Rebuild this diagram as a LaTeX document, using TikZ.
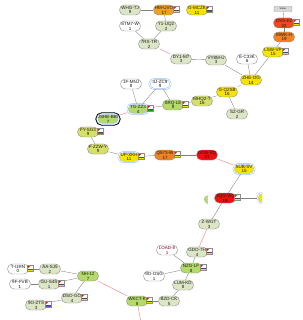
\documentclass[tikz,border=0pt]{standalone}
\usepackage{fontspec}
\setmainfont{Liberation Sans}

\definecolor{pale}{HTML}{DCE6C6}
\definecolor{lime}{HTML}{B4DA6C}
\definecolor{olive}{HTML}{D6DF6A}
\definecolor{sun}{HTML}{F6E400}
\definecolor{amber}{HTML}{EFA020}
\definecolor{tang}{HTML}{F08222}
\definecolor{blood}{HTML}{EE4A1E}
\definecolor{fire}{HTML}{EE1010}
\definecolor{selblue}{HTML}{9DBDF2}
\definecolor{hot}{HTML}{F27878}

\begin{document}
\begin{tikzpicture}[x=1pt, y=-1pt,
    every node/.style={font=\fontsize{4.5}{4.9}\selectfont, text=black!90},
    st/.style={rectangle, rounded corners=4.8pt, draw=black!45, line width=0.4pt,
               minimum width=21pt, minimum height=10pt, inner sep=0.7pt, align=center},
    wt/.style={st, fill=white},
    pl/.style={st, fill=pale},
    gr/.style={st, fill=lime},
    ol/.style={st, fill=olive},
    yl/.style={st, fill=sun},
    sel/.style={draw=selblue, double=white, double distance=0.7pt, line width=0.5pt},
    bold/.style={preaction={draw=black, line width=3.4pt}},
    e/.style={draw=black!50, line width=0.35pt},
    r/.style={draw=hot, line width=0.4pt},
    flag/.pic={
      \fill[white] (0,0) rectangle (5.5,6.5);
      \fill[#1] (0,4.6) rectangle (5.5,6.5);
      \draw[black!70, line width=0.2pt] (0,4.6) -- (5.5,4.6);
      \fill[red] (0.6,0.6) -- (3.4,0.6) -- (0.6,3.4) -- cycle;
      \draw[black!45, line width=0.3pt] (0,0) rectangle (5.5,6.5);
    },
  ]
  \useasboundingbox (0,0) rectangle (302,320);
  % top cluster
  \node[pl] (whg) at (130, 10) {WHG-TJ\\9};
  \node[st, fill=amber] (hm) at (164, 10) {HM-UVO\\17};
  \node[yl] (gmc) at (197, 10) {G-MCZK\\11};
  \node[wt] (stm) at (130, 26) {STM7-W\\1};
  \node[pl] (yy) at (166, 26) {Y1-UQ2\\2};
  \node[pl] (rs) at (149, 44) {7RS-TR\\2};
  \node[pl] (dyt) at (181, 59) {DY1-M7\\3};
  \node[pl] (vy) at (216, 60) {VY8M-U\\3};
  \node[wt] (ec) at (247, 59) {E-C33K\\6};
  \node[yl] (lsw) at (273, 52) {LSW-VP\\15};
  \node[st, fill=tang] (mwk) at (284, 37) {MWK-H\\19};
  \node[st, fill=blood] (dss) at (284, 23) {DSS-EZ\\22};
  \node[st, fill=black!15, draw=black!40, rounded corners=1pt, minimum width=18pt,
        minimum height=5pt, inner sep=0.3pt, font=\fontsize{2.4}{2.6}\selectfont] (stat) at (283, 9) {Status};
  \node[yl] (zhe) at (251, 80) {ZHE-OG\\14};
  \node[yl] (gq) at (227, 92) {G-Q2SB\\16};
  \node[ol] (mhq) at (202, 101) {MHQ2-T\\16};
  \node[pl] (sz) at (237, 114) {SZ-GR\\2};
  % middle cluster
  \node[wt] (fm) at (131, 84) {1F-MNJ\\8};
  \node[wt, sel] (zc) at (160, 84) {4J-ZC9\\9};
  \node[gr, sel] (tg) at (138, 109) {TG-ZZ3\\4};
  \node[gr] (srq) at (173, 105) {SRQ-LE\\8};
  \node[gr, sel, bold] (jsh) at (108, 119) {JSHE-BBI\\7};
  \node[ol] (fy) at (88, 132) {FY-SG3\\9};
  \node[ol] (fzz) at (98, 149) {F-ZZW-Y\\9};
  \node[yl, sel] (up) at (129, 157) {UP-XKH\\11};
  \node[st, fill=tang] (qw) at (165, 155) {Q573-W\\17};
  \node[st, fill=fire] (ogn) at (207, 155) {OGN-VQ\\23};
  \node[yl, sel] (sub) at (244, 169) {SUB-SV\\15};
  \node[st, fill=fire] (qg) at (225, 198) {4QG-VQ\\19};
  \fill[lime, draw=black!30, line width=0.2pt] (207.5,195.5) .. controls (203,197) and (203,201) .. (207.5,204) -- cycle;
  \begin{scope}
    \clip (250,185) rectangle (262,212);
    \node[yl, sel] (part) at (268, 198) {\phantom{X}};
  \end{scope}
  % bottom cluster
  \node[pl] (zw) at (209, 224) {Z-WGT\\3};
  \node[pl] (gdo) at (197, 252) {GDO-7H\\4};
  \node[gr] (nzg) at (191, 268) {NZG-LF\\8};
  \node[wt, text=purple!70!black] (load) at (167, 250) {LOAD-8\\1};
  \node[wt] (osg) at (154, 276) {9O-OSG\\1};
  \node[pl] (lum) at (183, 285) {LUM-KD\\8};
  \node[pl] (bzd) at (169, 301) {BZD-CK\\5};
  \node[gr] (wk) at (137, 301) {WKCT-K\\8};
  \node[gr] (nh) at (88, 276) {NH-12\\7};
  \node[pl] (aa) at (50, 269) {AA-SJ5\\2};
  \node[wt] (ti) at (18, 269) {T-I1RN\\0};
  \node[pl] (gus) at (49, 284) {GU-S4S\\1};
  \node[wt] (fv) at (20, 284) {9F-FVB\\1};
  \node[pl] (dso) at (72, 298) {DSO-GO\\4};
  \node[pl] (zts) at (36, 305) {9O-ZTS\\3};
  \coordinate (down) at (141, 322);
  % connectors
  \draw[e] (whg) -- (hm);
  \draw[e] (hm) -- (yy);
  \draw[e] (stm) -- (rs);
  \draw[e] (yy) -- (rs);
  \draw[r] (rs) -- (dyt);
  \draw[e] (dyt) -- (vy);
  \draw[e] (vy) -- (zhe);
  \draw[e] (ec) -- (zhe);
  \draw[e] (lsw) -- (zhe);
  \draw[e] (lsw) -- (mwk);
  \draw[e] (mwk) -- (dss);
  \draw[e] (dss) -- (stat);
  \draw[r] (zhe) -- (gq);
  \draw[e] (gq) -- (mhq);
  \draw[e] (gq) -- (sz);
  \draw[e] (mhq) -- (srq);
  \draw[e] (srq) -- (tg);
  \draw[e] (zc) -- (srq);
  \draw[e] (zc) -- (tg);
  \draw[e] (fm) -- (tg);
  \draw[r] (tg) -- (jsh);
  \draw[e] (fy) -- (fzz);
  \draw[e] (fzz) -- (up);
  \draw[e] (up) -- (qw);
  \draw[e] (qw) -- (ogn);
  \draw[r] (ogn) -- (sub);
  \draw[e] (sub) -- (qg);
  \draw[e] (qg) -- (part);
  \draw[e] (qg) -- (zw);
  \draw[r] (zw) -- (gdo);
  \draw[e] (gdo) -- (nzg);
  \draw[e] (nzg) -- (load);
  \draw[e] (nzg) -- (osg);
  \draw[e] (nzg) -- (lum);
  \draw[e] (lum) -- (bzd);
  \draw[e] (bzd) -- (wk);
  \draw[r] (nh) -- (wk);
  \draw[r] (wk) -- (down);
  \draw[e] (nh) -- (aa);
  \draw[e] (nh) -- (gus);
  \draw[e] (nh) -- (dso);
  \draw[e] (aa) -- (ti);
  \draw[e] (gus) -- (fv);
  \draw[e] (dso) -- (zts);
  % flags
  \foreach \n/\c in {hm/sun, gmc/blue!70, dss/sun, lsw/sun, tg/green!70!black, srq/sun,
                     fy/green!70!black, up/sun, qw/sun, qg/sun, gdo/sun, nzg/sun, wk/sun,
                     ti/sun, gus/sun, dso/sun, zts/blue!70}
    \pic at ([xshift=-1.5pt, yshift=-1pt]\n.north east) {flag=\c};
\end{tikzpicture}
\end{document}
